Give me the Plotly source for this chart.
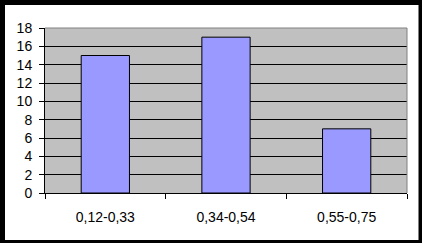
import plotly.graph_objects as go

categories = ["0,12-0,33", "0,34-0,54", "0,55-0,75"]
values = [15, 17, 7]
y_ticks = list(range(0, 19, 2))

W, H = 422, 243
L, R, T, B = 45, 15, 28, 50
pw, ph = W - L - R, H - T - B

def px_x(px):
    return (px - L) / pw

def px_y(py):
    return (H - B - py) / ph

fig = go.Figure(go.Bar(
    x=categories, y=values, width=0.4,
    marker=dict(color="#9999ff", line=dict(color="black", width=1)),
))

shapes = []
# plot-area grey top/right border
shapes.append(dict(type="line", xref="paper", yref="paper", x0=0, x1=1, y0=1, y1=1,
                   line=dict(color="#808080", width=1), layer="above"))
shapes.append(dict(type="line", xref="paper", yref="paper", x0=1, x1=1, y0=0, y1=1,
                   line=dict(color="#808080", width=1), layer="above"))
# outer black frame
for (x0, x1, y0, y1) in [(0, 5, 0, H), (418.5, W, 0, H), (0, W, 0, 5), (0, W, 240, H)]:
    shapes.append(dict(type="rect", xref="paper", yref="paper",
                       x0=px_x(x0), x1=px_x(x1), y0=px_y(y1), y1=px_y(y0),
                       fillcolor="black", line=dict(width=0), layer="above"))

fig.update_layout(
    width=W, height=H,
    margin=dict(l=L, r=R, t=T, b=B, pad=0),
    paper_bgcolor="white", plot_bgcolor="#c0c0c0",
    font=dict(family="Liberation Sans, Arial", size=14, color="black"),
    showlegend=False,
    shapes=shapes,
    bargap=0.6,
)
fig.update_xaxes(
    showgrid=False, showline=True, linecolor="black", linewidth=1,
    ticks="outside", ticklen=5, tickcolor="black", tickson="boundaries",
    ticklabelstandoff=11,
)
fig.update_yaxes(
    range=[0, 18], tickvals=y_ticks, showgrid=True, gridcolor="black", gridwidth=1,
    showline=True, linecolor="black", linewidth=1, zeroline=False,
    ticks="outside", ticklen=5, tickcolor="black", ticklabelstandoff=4,
)

fig.write_html("out.html")
